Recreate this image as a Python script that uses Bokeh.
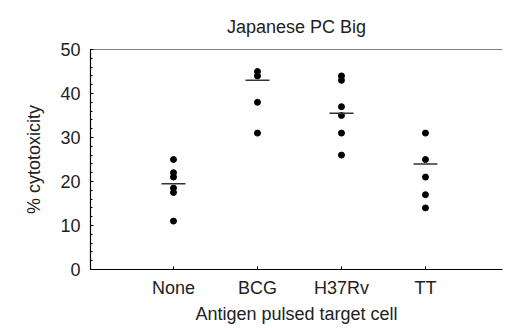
from bokeh.plotting import figure
from bokeh.models import Span, FixedTicker, Range1d
from bokeh.embed import file_html
from bokeh.resources import INLINE

title_text = "Japanese PC Big"
categories = ["None", "BCG", "H37Rv", "TT"]
none_vals = [25, 22, 21, 18.5, 17.5, 11]
bcg_vals = [45, 44, 38, 31]
h37rv_vals = [44, 43, 37, 35, 31, 26]
tt_vals = [31, 25, 21, 17, 14]
center_vals = [19.5, 43, 35.5, 24]
y_ticks = [0, 10, 20, 30, 40, 50]

groups = [none_vals, bcg_vals, h37rv_vals, tt_vals]
positions = list(range(1, len(categories) + 1))

FONT = "Liberation Sans"
FS = "18px"
X0, X1, Y0, Y1 = 0.012, 4.917, 0, 50

p = figure(frame_width=412, frame_height=220, output_backend="svg", toolbar_location=None,
           x_range=Range1d(X0, X1), y_range=Range1d(Y0, Y1),
           min_border_left=90, min_border_right=3, min_border_top=49, min_border_bottom=59,
           title=title_text)
p.title.text_font = FONT
p.title.text_font_size = FS
p.title.text_font_style = "normal"
p.title.text_color = "#222222"
p.title.align = "center"
p.title.vertical_align = "top"
p.title.offset = 0
p.title.standoff = 22

xs, ys = [], []
for pos, vals in zip(positions, groups):
    xs += [pos] * len(vals)
    ys += vals
p.scatter(xs, ys, size=6, color="black")
p.scatter(positions, center_vals, marker="dash", size=24, line_color="#333333", line_width=1.5)

p.xgrid.visible = False
p.ygrid.visible = False
p.outline_line_color = None
p.add_layout(Span(location=Y1, dimension="width", line_color="black", line_width=1.2))

p.xaxis.ticker = FixedTicker(ticks=positions)
p.xaxis.major_label_overrides = {pos: c for pos, c in zip(positions, categories)}
p.yaxis.ticker = FixedTicker(ticks=y_ticks, minor_ticks=list(range(0, 51, 2)))

for ax in (p.xaxis[0], p.yaxis[0]):
    ax.axis_line_color = "black"
    ax.axis_line_width = 1.2
    ax.major_tick_out = 0
    ax.major_tick_in = 3
    ax.minor_tick_out = 0
    ax.minor_tick_in = 2
    ax.major_label_text_font = FONT
    ax.major_label_text_font_size = FS
    ax.axis_label_text_font = FONT
    ax.axis_label_text_font_size = FS
    ax.axis_label_text_font_style = "normal"
    ax.major_label_text_color = "#222222"
    ax.axis_label_text_color = "#222222"

p.xaxis.axis_label = "Antigen pulsed target cell"
p.xaxis.major_label_standoff = 8
p.xaxis.axis_label_standoff = 3
p.yaxis.axis_label = "% cytotoxicity"
p.yaxis.major_label_standoff = 10
p.yaxis.axis_label_standoff = 13

open("out.html", "w").write(file_html(p, INLINE))
